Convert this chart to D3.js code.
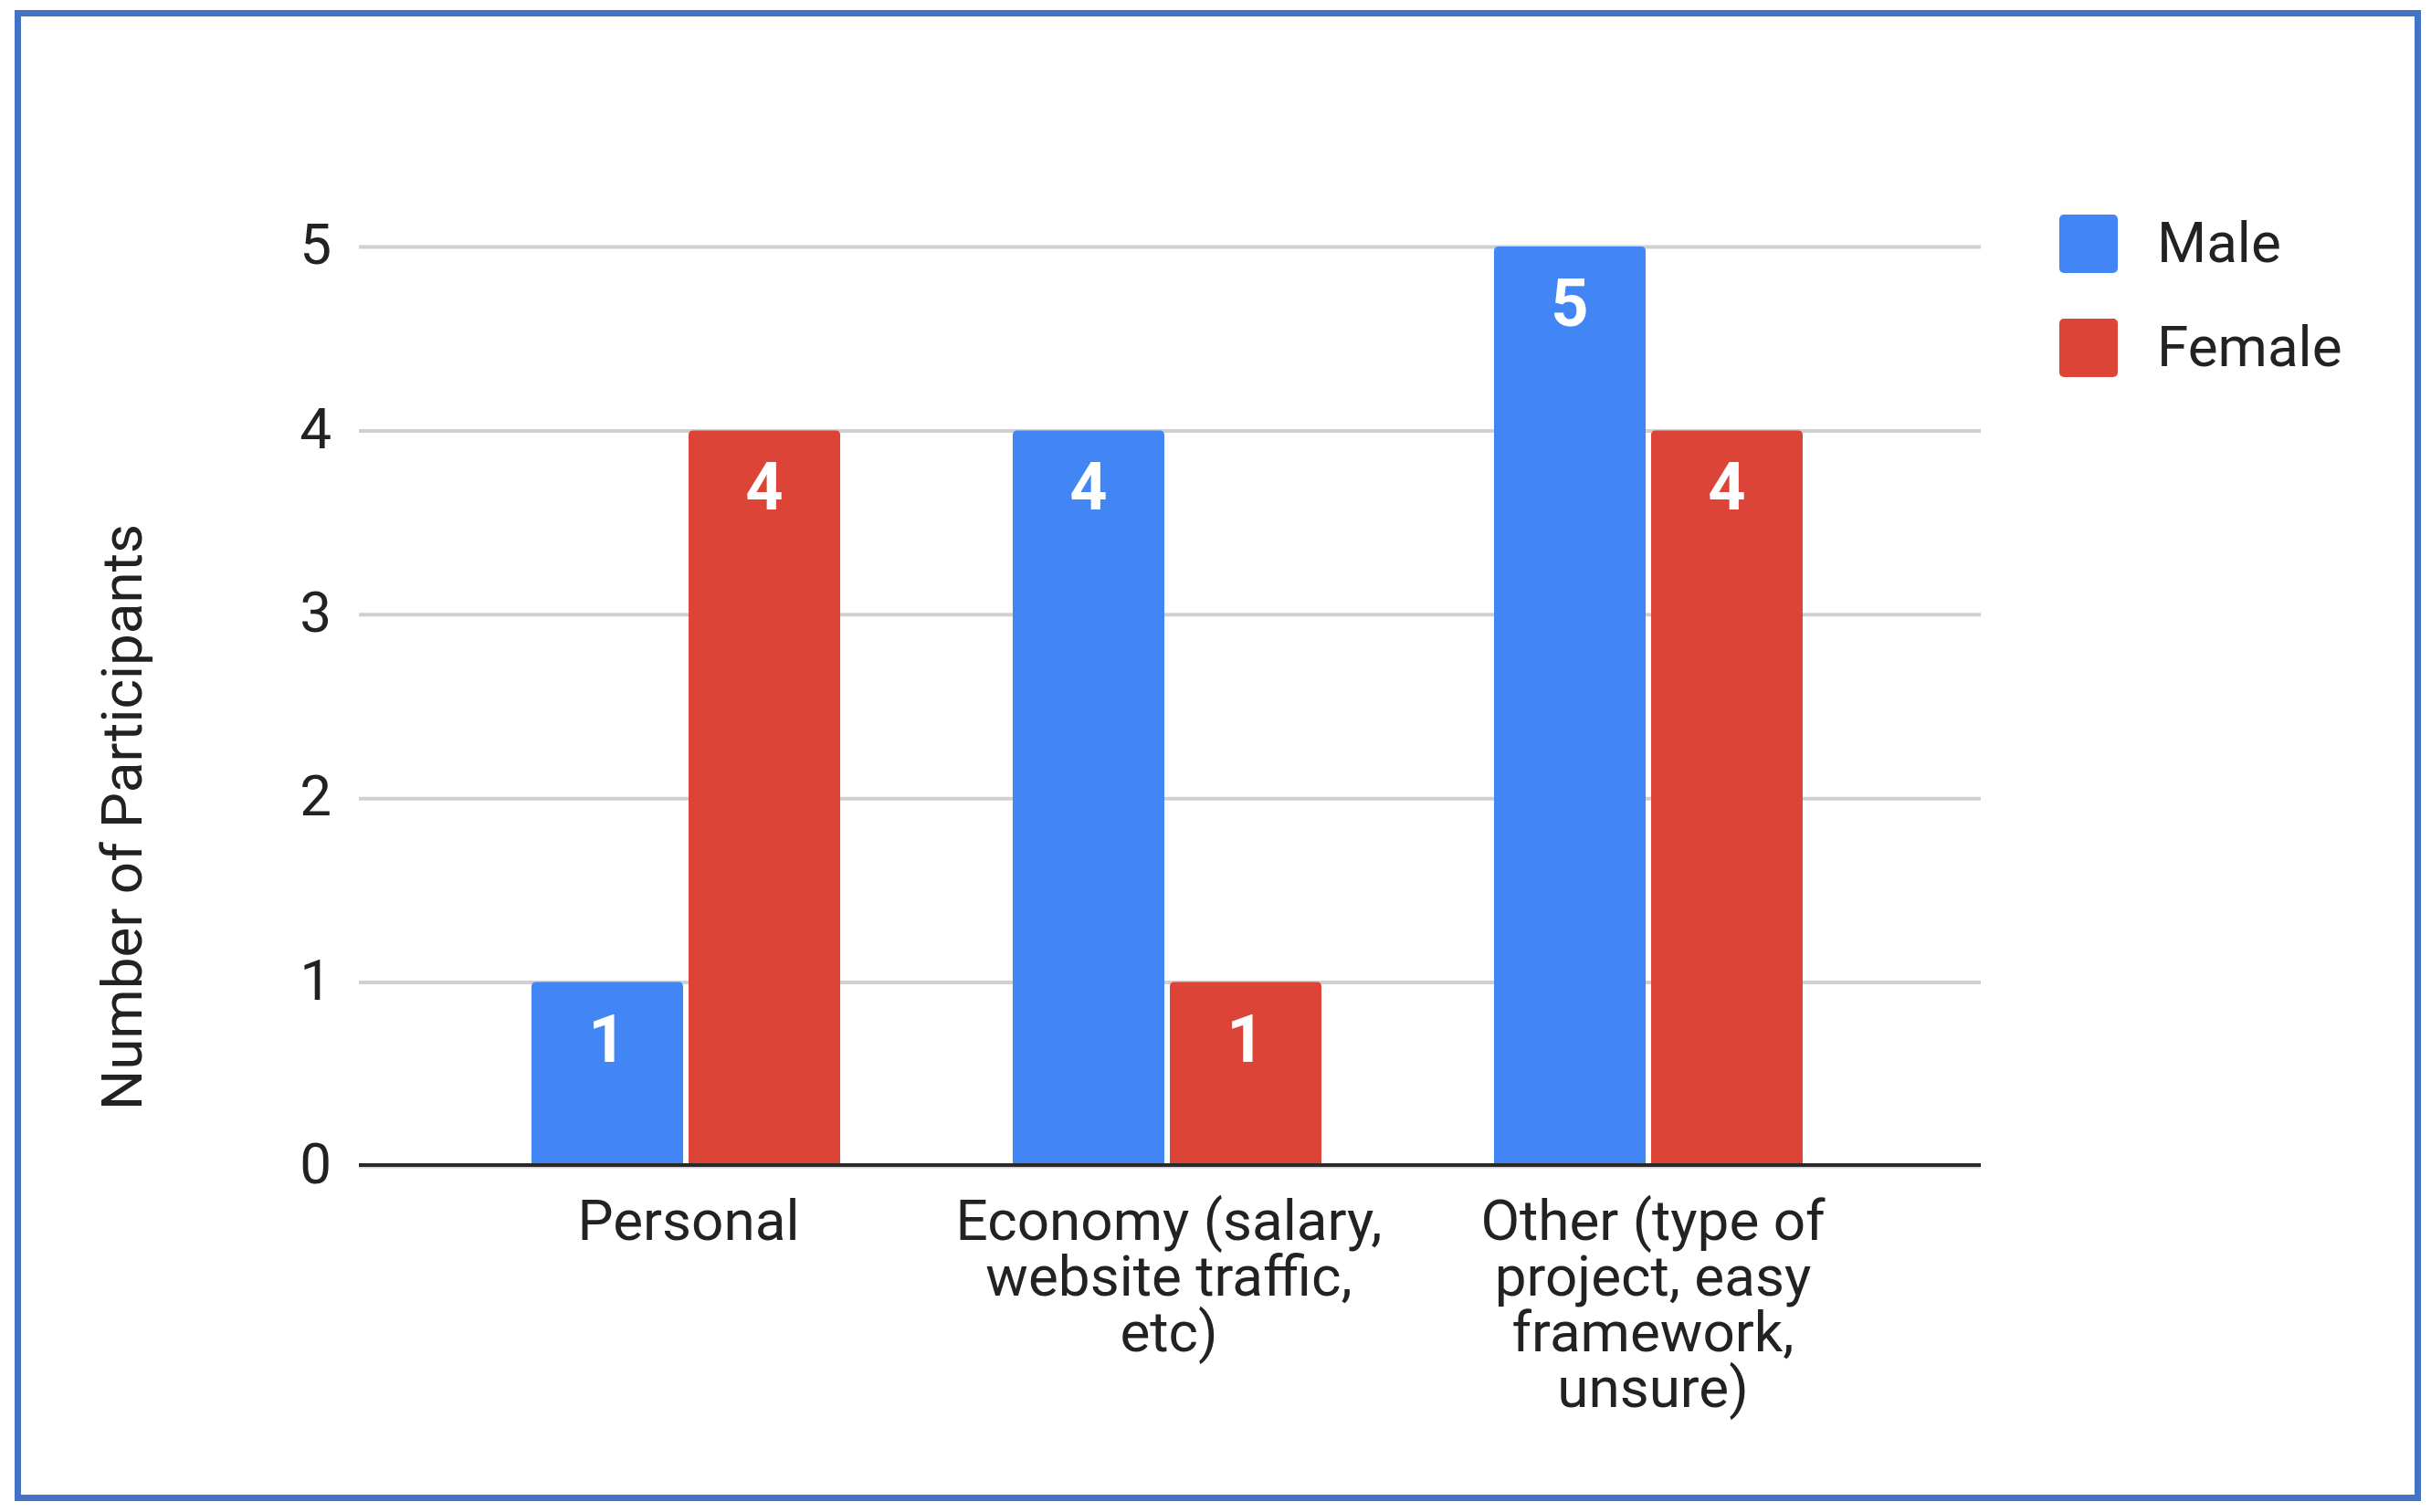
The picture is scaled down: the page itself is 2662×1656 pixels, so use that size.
<!DOCTYPE html>
<html>
<head>
<meta charset="utf-8">
<script src="https://cdn.jsdelivr.net/npm/d3@7"></script>
<style>
  html, body { margin: 0; padding: 0; background: #ffffff; }
  svg { display: block; }
  text { font-family: Roboto, "Liberation Sans", Arial, sans-serif; }
</style>
</head>
<body>
<script>
// ---- data ----
const categories = [
  ["Personal"],
  ["Economy (salary,", "website traffic,", "etc)"],
  ["Other (type of", "project, easy", "framework,", "unsure)"]
];
const categoryKeys = ["Personal", "Economy", "Other"];
const seriesNames = ["Male", "Female"];
const maleValues = [1, 4, 5];
const femaleValues = [4, 1, 4];
const yTicks = [0, 1, 2, 3, 4, 5];
const yTitle = "Number of Participants";
const colors = { Male: "#4285F4", Female: "#DB4437" };

// ---- layout ----
const W = 2662, H = 1656;
const svg = d3.select("body").append("svg").attr("width", W).attr("height", H);

svg.append("rect").attr("x", 0).attr("y", 0).attr("width", W).attr("height", H).attr("fill", "#fff");
// outer frame
svg.append("rect")
  .attr("x", 19.5).attr("y", 14.5).attr("width", 2628).attr("height", 1626)
  .attr("fill", "none").attr("stroke", "#4472C4").attr("stroke-width", 7);

const plotLeft = 393, plotRight = 2169;
const y = d3.scaleLinear().domain([0, 5]).range([1277, 270]);
const x0 = d3.scaleBand().domain(categoryKeys).range([487.5, 2068.5]).paddingInner(0.3586).paddingOuter(0.1793);
const x1 = d3.scaleBand().domain(seriesNames).range([0, x0.bandwidth()]).paddingInner(0.035);

const fontSize = 62;

// gridlines via axis
const grid = svg.append("g").attr("transform", `translate(${plotLeft},0)`)
  .call(d3.axisRight(y).tickValues(yTicks).tickSize(plotRight - plotLeft).tickFormat(""));
grid.select(".domain").remove();
grid.selectAll("line").attr("stroke", "#d0d0d0").attr("stroke-width", 4);

// y tick labels via axis
const yAxis = svg.append("g").attr("transform", `translate(363,0)`)
  .call(d3.axisLeft(y).tickValues(yTicks).tickSize(0).tickPadding(0).tickFormat(d3.format("d")));
yAxis.select(".domain").remove();
yAxis.selectAll("text")
  .attr("font-size", fontSize).attr("fill", "#222")
  .attr("dy", "0.30em")
  .style("font-family", "Roboto, 'Liberation Sans', Arial, sans-serif");

// bars
const rows = categoryKeys.map((k, i) => ({ key: k, Male: maleValues[i], Female: femaleValues[i] }));
function topRounded(xp, yp, w, h, r) {
  r = Math.min(r, h / 2, w / 2);
  return `M${xp},${yp + h}V${yp + r}Q${xp},${yp} ${xp + r},${yp}H${xp + w - r}Q${xp + w},${yp} ${xp + w},${yp + r}V${yp + h}Z`;
}
const groups = svg.append("g").selectAll("g").data(rows).join("g")
  .attr("transform", d => `translate(${x0(d.key)},0)`);
groups.selectAll("path").data(d => seriesNames.map(s => ({ s, v: d[s] }))).join("path")
  .attr("d", d => topRounded(x1(d.s), y(d.v), x1.bandwidth(), y(0) - y(d.v), 5))
  .attr("fill", d => colors[d.s]);
groups.selectAll("text.val").data(d => seriesNames.map(s => ({ s, v: d[s] }))).join("text")
  .attr("class", "val")
  .attr("x", d => x1(d.s) + x1.bandwidth() / 2)
  .attr("y", d => y(d.v) + 87)
  .attr("text-anchor", "middle")
  .attr("font-size", 72).attr("font-weight", "bold").attr("fill", "#fff")
  .text(d => d.v);

// baseline
svg.append("line").attr("x1", plotLeft).attr("x2", plotRight)
  .attr("y1", y(0) - 1).attr("y2", y(0) - 1)
  .attr("stroke", "#2a2a2a").attr("stroke-width", 4);

// category labels
const catCenters = [754, 1280, 1810];
categories.forEach((lines, i) => {
  const t = svg.append("text")
    .attr("text-anchor", "middle").attr("font-size", fontSize).attr("fill", "#222");
  lines.forEach((ln, j) => {
    t.append("tspan").attr("x", x0(categoryKeys[i]) + x0.bandwidth() / 2 + (catCenters[i] - (x0(categoryKeys[i]) + x0.bandwidth() / 2)))
      .attr("y", 1358 + j * 61).text(ln);
  });
});

// y title
svg.append("text")
  .attr("transform", "translate(155,895) rotate(-90)")
  .attr("text-anchor", "middle").attr("font-size", fontSize).attr("fill", "#222")
  .text(yTitle);

// legend
const legend = svg.append("g").selectAll("g").data(seriesNames).join("g")
  .attr("transform", (d, i) => `translate(2255,${235 + i * 114})`);
legend.append("rect").attr("width", 64).attr("height", 64).attr("rx", 5)
  .attr("fill", d => colors[d]);
legend.append("text").attr("x", 107).attr("y", 52)
  .attr("font-size", fontSize).attr("fill", "#222").text(d => d);
</script>
</body>
</html>
